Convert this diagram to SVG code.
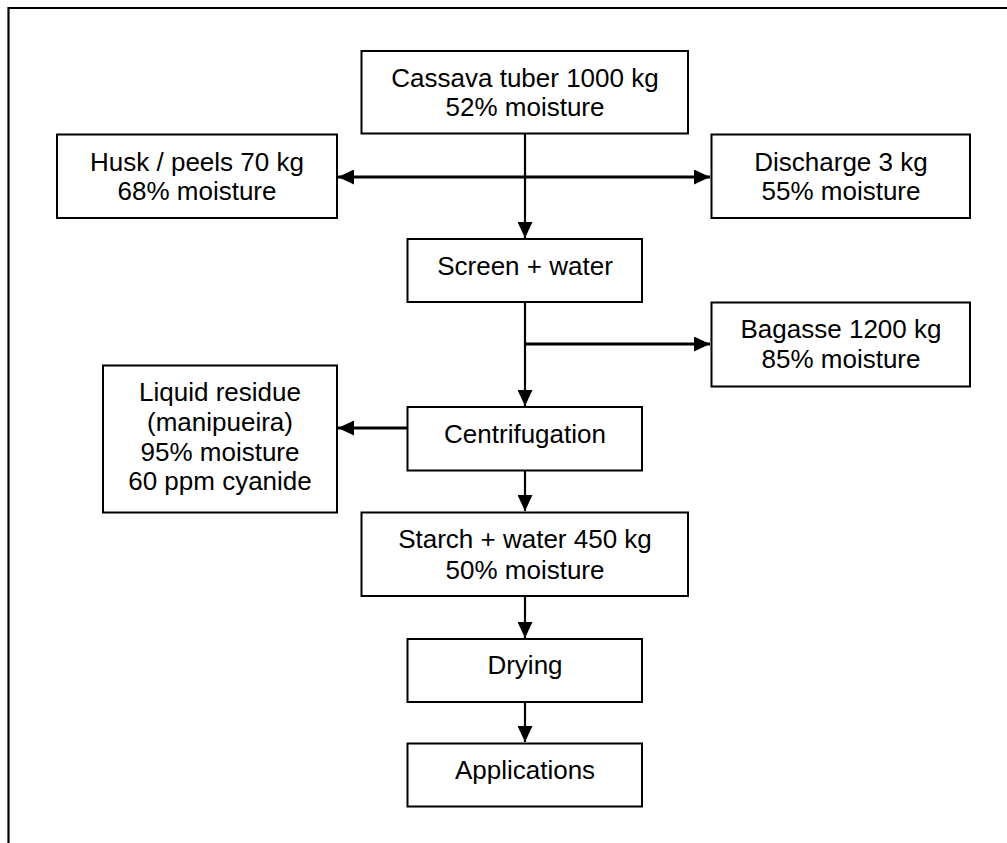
<svg xmlns="http://www.w3.org/2000/svg" width="1007" height="843" viewBox="0 0 1007 843">
<defs>
<style>
.box{fill:#fff;stroke:#000;stroke-width:2}
.t{font-family:"Liberation Sans",Arial,sans-serif;font-size:26px;fill:#000;text-anchor:middle}
.c{fill:none;stroke:#000;stroke-width:2.2}
.ct{fill:none;stroke:#000;stroke-width:2.8}
</style>
<marker id="ah" markerUnits="userSpaceOnUse" markerWidth="16" markerHeight="15" viewBox="0 0 16 15" refX="16" refY="7.5" orient="auto-start-reverse">
<path d="M0,0 L16,7.5 L0,15 Z" fill="#000"/>
</marker>
</defs>
<rect width="1007" height="843" fill="#fff"/>
<path d="M8.5,843 V8 H1007" fill="none" stroke="#000" stroke-width="2.2"/>
<g id="connectors">
<line class="c" x1="525" y1="134" x2="525" y2="238" marker-end="url(#ah)"/>
<line class="ct" x1="338" y1="177" x2="710" y2="177" marker-start="url(#ah)" marker-end="url(#ah)"/>
<line class="c" x1="525" y1="302" x2="525" y2="406" marker-end="url(#ah)"/>
<line class="ct" x1="525" y1="344" x2="710" y2="344" marker-end="url(#ah)"/>
<line class="ct" x1="407" y1="428" x2="338" y2="428" marker-end="url(#ah)"/>
<line class="c" x1="525" y1="471" x2="525" y2="511" marker-end="url(#ah)"/>
<line class="c" x1="525" y1="596" x2="525" y2="638" marker-end="url(#ah)"/>
<line class="c" x1="525" y1="702" x2="525" y2="742" marker-end="url(#ah)"/>
</g>
<g id="cassava">
<rect class="box" x="361.5" y="51" width="326.5" height="82.5"/>
<text class="t" x="525" y="87">Cassava tuber 1000 kg</text>
<text class="t" x="525" y="115.5">52% moisture</text>
</g>
<g id="husk">
<rect class="box" x="57" y="134.5" width="280" height="83.5"/>
<text class="t" x="197" y="170.5">Husk / peels 70 kg</text>
<text class="t" x="197" y="199.5">68% moisture</text>
</g>
<g id="discharge">
<rect class="box" x="711.5" y="134.5" width="258.5" height="83.5"/>
<text class="t" x="841" y="170.5">Discharge 3 kg</text>
<text class="t" x="841" y="199.5">55% moisture</text>
</g>
<g id="screen">
<rect class="box" x="407.5" y="239" width="234.5" height="63"/>
<text class="t" x="525" y="274.5">Screen + water</text>
</g>
<g id="bagasse">
<rect class="box" x="711.5" y="302.5" width="258.5" height="84"/>
<text class="t" x="841" y="337.5">Bagasse 1200 kg</text>
<text class="t" x="841" y="367.5">85% moisture</text>
</g>
<g id="liquid">
<rect class="box" x="103" y="365.5" width="234" height="147"/>
<text class="t" x="220" y="401">Liquid residue</text>
<text class="t" x="220" y="431">(manipueira)</text>
<text class="t" x="220" y="460.5">95% moisture</text>
<text class="t" x="220" y="490">60 ppm cyanide</text>
</g>
<g id="centrifugation">
<rect class="box" x="407.5" y="407" width="234.5" height="63.5"/>
<text class="t" x="525" y="442.5">Centrifugation</text>
</g>
<g id="starch">
<rect class="box" x="361.5" y="512.5" width="326.5" height="83.5"/>
<text class="t" x="525" y="548">Starch + water 450 kg</text>
<text class="t" x="525" y="579">50% moisture</text>
</g>
<g id="drying">
<rect class="box" x="407.5" y="639" width="234.5" height="63"/>
<text class="t" x="525" y="673.5">Drying</text>
</g>
<g id="applications">
<rect class="box" x="407.5" y="743.5" width="234.5" height="63"/>
<text class="t" x="525" y="778.5">Applications</text>
</g>
</svg>
